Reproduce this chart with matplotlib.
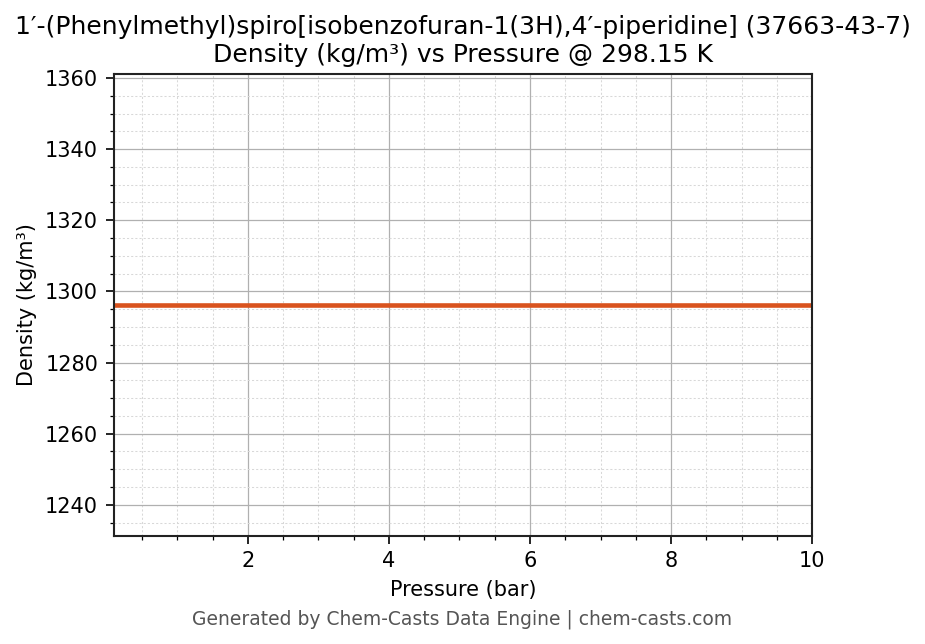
import matplotlib
matplotlib.use("Agg")
import matplotlib.pyplot as plt
from matplotlib.ticker import MultipleLocator

pressure_bar = [0.1, 1.0, 2.0, 3.0, 4.0, 5.0, 6.0, 7.0, 8.0, 9.0, 10.0]
density = [1296.3, 1296.3, 1296.3, 1296.3, 1296.3, 1296.3, 1296.3, 1296.3, 1296.3, 1296.3, 1296.3]

title = "1′-(Phenylmethyl)spiro[isobenzofuran-1(3H),4′-piperidine] (37663-43-7)\nDensity (kg/m³) vs Pressure @ 298.15 K"

fig = plt.figure(figsize=(925/150, 644/150), dpi=150)
ax = fig.add_axes([0.123, 0.168, 0.755, 0.717])
ax.plot(pressure_bar, density, color="#d9531e", linewidth=2.2)
ax.set_xlim(0.1, 10)
ax.set_ylim(1231.3, 1361.1)
ax.xaxis.set_major_locator(MultipleLocator(2))
ax.xaxis.set_minor_locator(MultipleLocator(0.5))
ax.yaxis.set_major_locator(MultipleLocator(20))
ax.yaxis.set_minor_locator(MultipleLocator(5))
ax.grid(which="major", color="#b0b0b0", linewidth=0.6)
ax.grid(which="minor", color="#d8d8d8", linewidth=0.5, linestyle=(0, (2, 2)))
for s in ax.spines.values():
    s.set_linewidth(1.0)
    s.set_color("#222222")
ax.tick_params(which="major", length=4, labelsize=10)
ax.tick_params(which="minor", length=2)
ax.set_xlabel("Pressure (bar)", fontsize=10)
ax.set_ylabel("Density (kg/m³)", fontsize=10)
ax.set_title(title, fontsize=12, pad=6)
fig.text(0.5, 0.03, "Generated by Chem-Casts Data Engine | chem-casts.com", ha="center", fontsize=9, color="#555555")
fig.savefig("out.png", dpi=150)
